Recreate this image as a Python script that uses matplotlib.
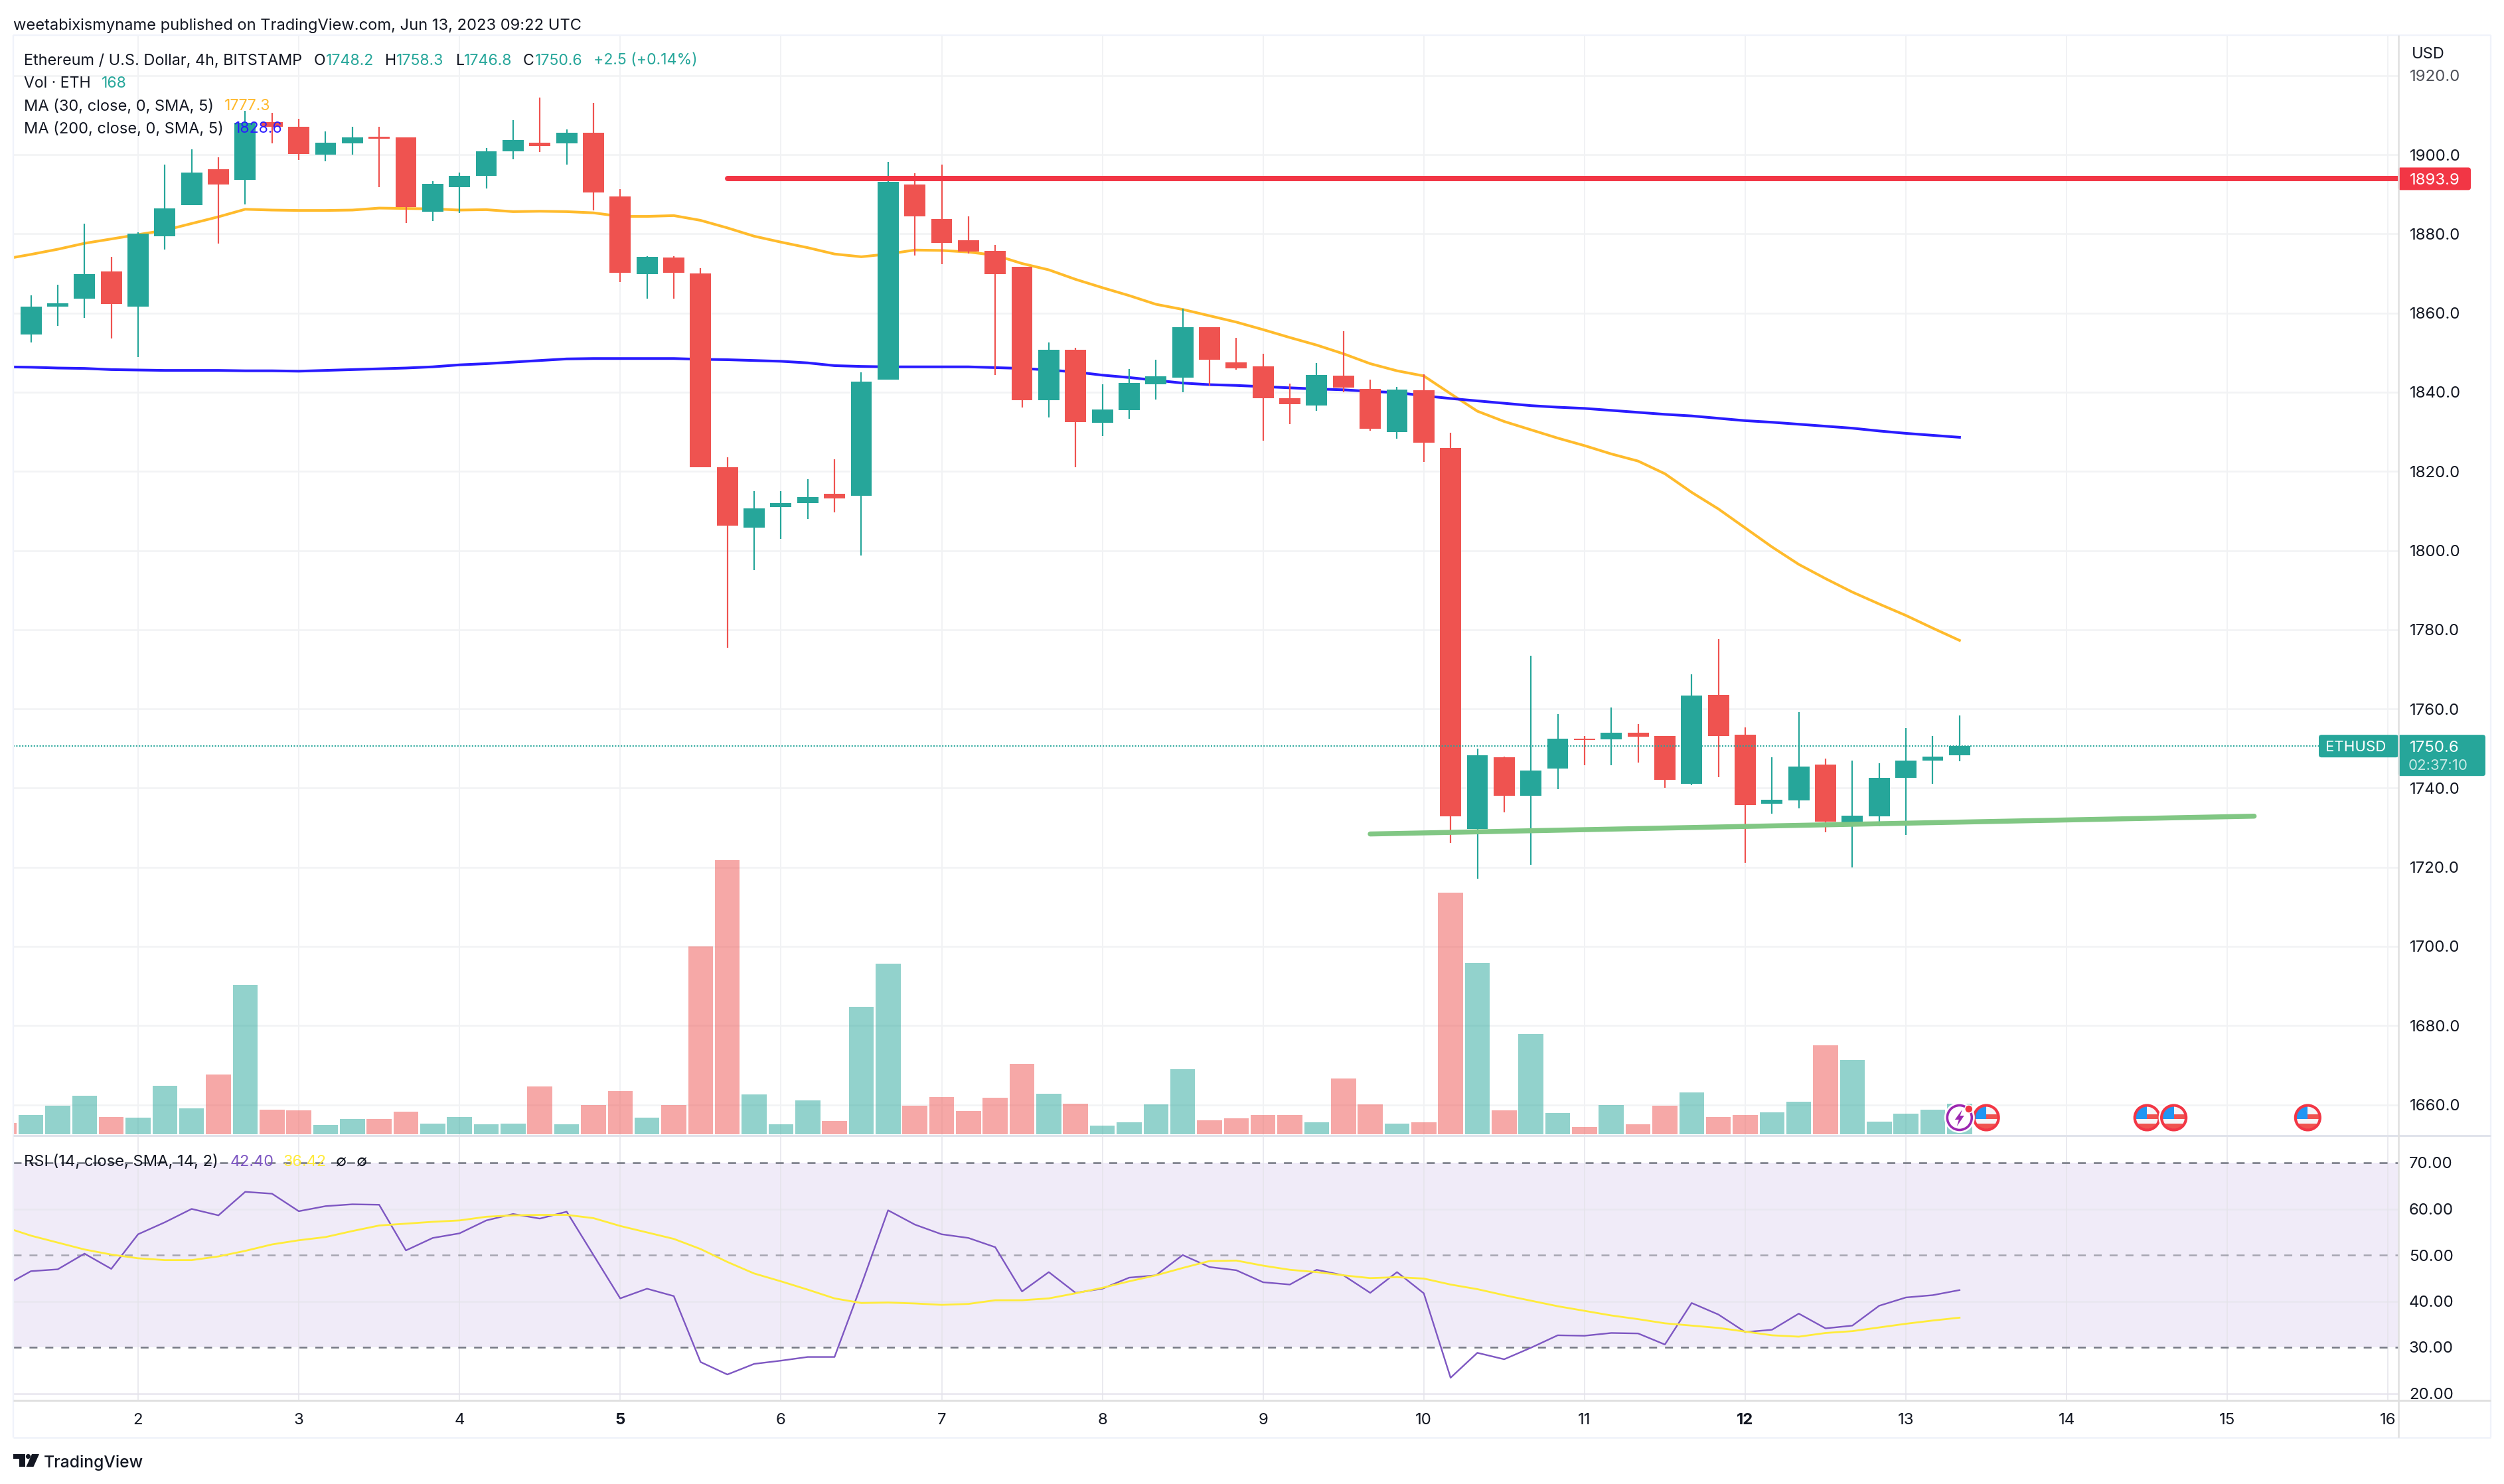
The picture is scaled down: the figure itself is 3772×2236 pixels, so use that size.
import numpy as np
import matplotlib
matplotlib.use("Agg")
import matplotlib.pyplot as plt
from matplotlib.patches import Rectangle, FancyBboxPatch, Circle, Polygon

plt.rcParams['font.family'] = ['Inter', 'DejaVu Sans']

# ---------- data ----------
opens = [1854.5,1861.6,1863.6,1870.5,1861.6,1879.3,1887.2,1896.3,1893.7,1908.2,1907.1,1900.0,1902.8,1904.6,1904.3,1885.6,1891.8,1894.7,1900.9,1903.1,1902.9,1905.5,
         1889.4,1869.8,1874.0,1870.0,1821.0,1805.8,1811.0,1812.0,1814.3,1813.8,1843.2,1892.5,1883.7,1878.3,1875.7,1871.7,1837.9,1850.7,1832.3,1835.4,1842.0,1843.7,1856.4,1847.5,1846.5,1838.4,1836.6,1844.2,1840.9,1829.9,1840.5,
         1825.9,1729.7,1747.8,1738.0,1745.0,1752.5,1752.3,1753.9,1753.1,1741.1,1763.6,1753.4,1736.1,1736.8,1746.0,1731.4,1732.8,1742.6,1747.0,1748.2]
closes = [1861.6,1862.5,1869.9,1862.2,1880.0,1886.5,1895.4,1892.5,1908.0,1907.0,1900.2,1903.0,1904.3,1904.0,1886.8,1892.7,1894.7,1900.9,1903.7,1902.2,1905.5,1890.4,
          1870.2,1874.1,1870.1,1821.0,1806.3,1810.7,1812.0,1813.5,1813.1,1842.6,1893.2,1884.4,1877.7,1875.5,1869.9,1837.9,1850.7,1832.5,1835.6,1842.3,1844.0,1856.4,1848.2,1846.0,1838.4,1836.9,1844.3,1841.1,1830.7,1840.7,1827.2,
          1732.9,1748.2,1738.1,1744.5,1752.5,1752.2,1753.9,1752.9,1742.0,1763.4,1753.2,1735.7,1737.1,1745.5,1731.6,1733.1,1742.6,1747.0,1748.0,1750.6]
highs = [1864.5,1867.1,1882.6,1874.1,1880.4,1897.5,1901.4,1899.4,1911.0,1910.6,1909.0,1905.8,1907.1,1907.1,1904.3,1893.3,1895.4,1901.7,1908.8,1914.5,1906.3,1913.0,
         1891.2,1874.3,1874.4,1871.3,1823.6,1815.0,1815.0,1818.0,1823.0,1845.0,1898.2,1895.3,1897.5,1884.4,1877.2,1871.7,1852.6,1851.2,1842.0,1845.8,1848.2,1861.1,1856.4,1853.7,1849.7,1842.1,1847.3,1855.4,1843.2,1841.3,1844.5,
         1829.7,1750.0,1748.0,1773.5,1758.6,1753.1,1760.3,1756.2,1753.1,1768.8,1777.7,1755.4,1747.8,1759.1,1747.5,1747.0,1746.3,1755.1,1753.1,1758.3]
lows = [1852.5,1856.8,1858.7,1853.5,1848.8,1876.0,1887.2,1877.6,1887.5,1902.9,1898.6,1898.4,1900.0,1891.8,1882.8,1883.3,1885.3,1891.5,1898.9,1900.7,1897.5,1886.0,
        1867.8,1863.6,1863.7,1821.0,1775.5,1795.0,1803.0,1808.0,1809.6,1798.8,1843.2,1874.5,1872.3,1875.1,1844.3,1836.1,1833.6,1821.0,1828.9,1833.2,1838.1,1840.0,1841.7,1845.6,1827.7,1831.9,1835.3,1840.0,1830.2,1828.3,1822.3,
        1726.2,1717.1,1733.9,1720.6,1739.8,1745.8,1745.8,1746.5,1740.0,1740.8,1742.8,1721.2,1733.6,1734.9,1728.9,1720.0,1730.4,1728.2,1741.1,1746.8]
volume = [63,107,158,213,96,92,268,143,331,828,136,132,51,85,85,125,59,96,55,59,265,55,162,239,92,162,1041,1519,221,55,188,74,706,945,158,206,129,202,390,224,169,48,66,166,360,77,88,107,107,66,309,166,59,66,1339,949,132,555,118,40,162,55,158,232,96,107,121,180,493,412,70,114,136,168]
ma30 = [1873.6,1874.8,1876.1,1877.6,1878.7,1879.8,1880.9,1882.6,1884.3,1886.2,1886.0,1885.9,1885.9,1886.0,1886.5,1886.4,1886.3,1886.0,1886.1,1885.6,1885.7,1885.6,1885.3,1884.4,1884.4,1884.6,1883.4,1881.5,1879.4,1877.9,1876.5,1874.9,
        1874.2,1874.9,1875.9,1875.8,1875.4,1874.6,1872.5,1870.9,1868.5,1866.4,1864.4,1862.2,1860.9,1859.3,1857.7,1855.8,1853.8,1851.9,1849.7,1847.2,1845.4,1844.1,1839.6,1835.2,1832.6,1830.5,1828.4,1826.5,1824.4,1822.6,1819.4,1814.7,
        1810.5,1805.7,1800.9,1796.5,1792.9,1789.5,1786.5,1783.6,1780.4,1777.3]
ma200 = [1846.4,1846.3,1846.1,1846.0,1845.7,1845.6,1845.5,1845.5,1845.5,1845.4,1845.4,1845.3,1845.5,1845.7,1845.9,1846.1,1846.4,1846.9,1847.2,1847.6,1848.0,1848.4,1848.5,1848.5,1848.5,1848.5,1848.3,1848.2,1848.0,1847.8,1847.4,1846.7,
         1846.5,1846.4,1846.4,1846.4,1846.4,1846.2,1846.0,1845.6,1845.1,1844.3,1843.7,1843.0,1842.3,1841.9,1841.7,1841.4,1841.1,1840.8,1840.6,1840.2,1839.9,1839.1,1838.4,1837.8,1837.2,1836.6,1836.2,1835.9,1835.4,1834.9,1834.4,1834.0,
         1833.4,1832.8,1832.4,1831.9,1831.4,1830.9,1830.2,1829.6,1829.1,1828.6]
rsi = [43.3,46.5,46.9,50.3,47.0,54.5,57.1,60.0,58.6,63.7,63.3,59.5,60.6,61.0,60.9,51.0,53.7,54.7,57.5,58.9,57.9,59.4,50.0,40.6,42.7,41.1,26.8,24.1,26.4,27.1,27.9,27.9,
       43.5,59.7,56.6,54.5,53.7,51.7,42.1,46.3,41.8,42.7,45.1,45.6,50.0,47.4,46.7,44.1,43.6,46.8,45.6,41.8,46.3,41.7,23.4,28.8,27.4,29.9,32.6,32.5,33.1,33.0,30.6,39.6,
       37.1,33.3,33.8,37.3,34.1,34.7,39.0,40.8,41.3,42.4]
rsi_ma = [56.1,54.2,52.7,51.2,50.1,49.3,48.9,48.9,49.7,50.9,52.3,53.2,53.9,55.2,56.4,56.8,57.2,57.5,58.3,58.6,58.7,58.7,58.0,56.3,54.9,53.5,51.3,48.5,46.0,44.3,42.5,40.6,
          39.6,39.7,39.5,39.2,39.4,40.2,40.2,40.6,41.7,42.9,44.3,45.6,47.2,48.7,48.8,47.7,46.8,46.3,45.6,45.0,45.2,44.9,43.6,42.6,41.3,40.1,38.9,37.9,36.9,36.1,35.2,34.7,
          34.2,33.4,32.6,32.3,33.1,33.5,34.3,35.1,35.8,36.42]
price_ticks = list(range(1660, 1921, 20))
rsi_ticks = [20, 30, 40, 50, 60, 70]
day_labels = [2,3,4,5,6,7,8,9,10,11,12,13,14,15,16]
bold_days = [5, 12]
resistance = 1893.9
last_price = 1750.6
support_x = [46, 79]
support_y = [1728.4, 1732.9]
earnings_bars = [69, 75, 76, 81]
dividend_bars = [68]

# ---------- layout ----------
W, H = 3772, 2236
DPI = 100
def pt(px): return px * 72 / DPI
PL, PR, PT, PB, RB = 20, 3613, 53, 1710.7, 2110
BAR0_PX, BAR_STEP = 208.0, 40.35

GREEN, RED = '#26a69a', '#ef5350'
TXT = '#131722'
GRID = '#f2f3f5'
LINE = '#e0e3eb'

fig = plt.figure(figsize=(W / DPI, H / DPI), dpi=DPI, facecolor='white')
def rect(t, b):
    return [PL / W, 1 - b / H, (PR - PL) / W, (b - t) / H]

xlim = ((PL - BAR0_PX) / BAR_STEP, (PR - BAR0_PX) / BAR_STEP)
plim = (1900 - (PB - 233) / 5.965, 1900 + (233 - PT) / 5.965)
rlim = (20 - (RB - 2099.5) / 6.95, 70 + (1752 - PB) / 6.95)

ax_g = fig.add_axes(rect(PT, PB), zorder=1)
vax = fig.add_axes(rect(PT, PB), zorder=2, facecolor='none')
ax = fig.add_axes(rect(PT, PB), zorder=3, facecolor='none')
rax = fig.add_axes(rect(PB, RB), zorder=1)
for a in (ax_g, vax, ax, rax):
    a.set_xlim(*xlim)
    for s in a.spines.values():
        s.set_visible(False)
ax.set_ylim(*plim); ax_g.set_ylim(*plim); rax.set_ylim(*rlim)
ax.axis('off'); vax.axis('off')

day_pos = [(d - 2) * 6 for d in day_labels]
cand_i = np.arange(-4, 69)
vol_i = np.arange(-5, 69)

# price axis
ax_g.yaxis.tick_right()
ax_g.set_yticks(price_ticks)
ax_g.set_yticklabels([f'{v:.1f}' for v in price_ticks], fontsize=17.3, color=TXT)
ax_g.get_yticklabels()[-1].set_alpha(0.75)
ax_g.tick_params(axis='y', length=0, pad=pt(17))
ax_g.set_xticks([])
ax_g.hlines(price_ticks, *xlim, color=GRID, lw=pt(2.6), zorder=0)
ax_g.vlines(day_pos, *plim, color='#f1f2f4', lw=pt(2), zorder=0)

# volume
vcol = [RED] + [GREEN if c >= o else RED for o, c in zip(opens, closes)]
v_scale = 1 / (1.226 * 3)
vax.set_ylim(-(PB - 1709) / v_scale, (1709 - PT) / v_scale)
vax.bar(vol_i, volume, width=0.93, color=vcol, alpha=0.5, linewidth=0)

# MAs
ax.plot(vol_i, ma30, color='#ffbb2c', lw=pt(4), zorder=2, solid_joinstyle='round')
ax.plot(vol_i, ma200, color='#2a1cff', lw=pt(4), zorder=2, solid_joinstyle='round')

# candles
ccol = [GREEN if c >= o else RED for o, c in zip(opens, closes)]
ax.vlines(cand_i, lows, highs, color=ccol, lw=pt(2.2), zorder=3)
bot = [min(o, c) for o, c in zip(opens, closes)]
hgt = [abs(c - o) for o, c in zip(opens, closes)]
ax.bar(cand_i, hgt, bottom=bot, width=0.79, color=ccol, linewidth=0, zorder=3)

# drawings
ax.plot([22, xlim[1]], [resistance, resistance], color='#f23645', lw=pt(8), zorder=5, solid_capstyle='round')
ax.plot(support_x, support_y, color='#81c784', lw=pt(7.5), zorder=5, solid_capstyle='round')
ax.plot(xlim, [last_price, last_price], color=GREEN, lw=pt(2), ls=(0, (1, 1.2)), zorder=4)

# RSI
rax.yaxis.tick_right()
rax.set_yticks(rsi_ticks)
rax.set_yticklabels([f'{v:.2f}' for v in rsi_ticks], fontsize=17.3, color=TXT)
rax.tick_params(axis='y', length=0, pad=pt(16))
rax.set_xticks(day_pos)
rax.set_xticklabels([str(d) for d in day_labels], fontsize=17.3, color=TXT)
for lab, d in zip(rax.get_xticklabels(), day_labels):
    if d in bold_days:
        lab.set_fontweight('bold')
rax.tick_params(axis='x', length=0, pad=pt(19))
rax.axhspan(30, 70, color='#7e57c2', alpha=0.115, linewidth=0, zorder=0)
rax.hlines([20, 40, 60], *xlim, color='#e9e7f0', lw=pt(2.6), zorder=1)
rax.vlines(day_pos, *rlim, color='#e4e4ea', lw=pt(2), zorder=1, alpha=0.75)
dash = (0, (4.6, 4.6))
rax.hlines([70, 30], *xlim, color='#787b86', lw=pt(2.6), linestyles=[dash], zorder=2)
rax.hlines([50], *xlim, color='#787b86', lw=pt(2.6), linestyles=[dash], alpha=0.6, zorder=2)
rax.plot(vol_i, rsi, color='#7e57c2', lw=pt(2.4), zorder=3)
rax.plot(vol_i, rsi_ma, color='#ffeb3b', lw=pt(2.8), zorder=4)

# ---------- overlay in pixels ----------
ov = fig.add_axes([0, 0, 1, 1], zorder=10, facecolor='none')
ov.set_xlim(0, W); ov.set_ylim(H, 0); ov.axis('off')

def hl(x0, x1, y, c, w): ov.plot([x0, x1], [y, y], color=c, lw=pt(w), solid_capstyle='butt')
def vl(x, y0, y1, c, w): ov.plot([x, x], [y0, y1], color=c, lw=pt(w), solid_capstyle='butt')
hl(20, 3752, PT, '#f0f3fa', 2.4)
hl(20, 3752, 2166, '#f0f3fa', 2.6)
vl(20, PT, 2166, '#f0f3fa', 2.4)
vl(3752, PT, 2166, '#f0f3fa', 2.4)
hl(20, 3752, PB, LINE, 3)
hl(20, 3752, RB, '#e0e0e0', 3)
vl(3613, PT, 2166, '#e0e0e0', 2.6)

FS = 17.0
def T(x, y, s, c=TXT, fs=FS, **k):
    k.setdefault('va', 'center_baseline')
    k.setdefault('ha', 'left')
    ov.text(x, y, s, color=c, fontsize=fs, **k)

T(20, 36, 'weetabixismyname published on TradingView.com, Jun 13, 2023 09:22 UTC', fs=17.05)
y = 89
T(36.5, y, 'Ethereum / U.S. Dollar, 4h, BITSTAMP', fs=16.9)
for x, s in [(472.6, 'O'), (580, 'H'), (686.6, 'L'), (788, 'C')]:
    T(x, y, s, fs=16.6)
for x, s in [(491, '1748.2'), (597, '1758.3'), (699, '1746.8'), (806, '1750.6'), (894, '+2.5 (+0.14%)')]:
    T(x, y, s, c=GREEN, fs=16.6)
T(36.5, 124, 'Vol · ETH', fs=16.6); T(153, 124, '168', c=GREEN, fs=16.6)
T(36.5, 158, 'MA (30, close, 0, SMA, 5)'); T(337.5, 158, '1777.3', c='#ffb92d', fs=16.6)
T(36.5, 192, 'MA (200, close, 0, SMA, 5)'); T(352.4, 192, '1828.6', c='#2a1cff', fs=16.6)
T(36.5, 1748.5, 'RSI (14, close, SMA, 14, 2)', fs=17.1)
T(346.6, 1748.5, '42.40', c='#7e57c2', fs=16.8); T(426, 1748.5, '36.42', c='#ffeb3b', fs=16.8)
T(506, 1748.5, '∅'); T(537, 1748.5, '∅')
T(3633, 80, 'USD')

def box(x0, y0, x1, y1, c):
    ov.add_patch(FancyBboxPatch((x0, y0), x1 - x0, y1 - y0, boxstyle='round,pad=0,rounding_size=4', fc=c, ec='none'))
# red price tag
ry = 233 + (1900 - resistance) * 5.965
box(3612, ry - 17, 3722, ry + 17, '#f23645')
T(3630, ry, '1893.9', c='white', fs=17.3)
# last price tags
ly = 233 + (1900 - last_price) * 5.965
box(3493, ly - 17, 3613, ly + 17, GREEN)
box(3612, ly - 17, 3744, ly + 45, GREEN)
T(3503, ly, 'ETHUSD', c='white', fs=16)
T(3630, ly, '1750.6', c='white', fs=17.3)
T(3628, ly + 28, '02:37:10', c='#c9e9e6', fs=16)

# event icons
IY = 1684
def bar_px(i): return BAR0_PX + i * BAR_STEP
for i in earnings_bars:
    cx = bar_px(i)
    ov.add_patch(Circle((cx, IY), 23, fc='white', ec='none'))
    clip = Circle((cx, IY), 17, transform=ov.transData)
    for xy, wh, c in [((cx - 18, IY - 18), (36, 36), '#f5f5f7'),
                      ((cx - 18, IY + 9), (36, 10), RED),
                      ((cx, IY - 5), (18, 7), RED),
                      ((cx - 18, IY - 18), (18, 20), '#2196f3')]:
        p = Rectangle(xy, *wh, fc=c, ec='none')
        ov.add_patch(p); p.set_clip_path(clip)
    ov.add_patch(Circle((cx, IY), 18.5, fc='none', ec='#f23645', lw=pt(4.2)))
cx = bar_px(dividend_bars[0])
ov.add_patch(Circle((cx, IY), 23, fc='white', ec='none'))
ov.add_patch(Circle((cx, IY), 18.5, fc='white', ec='#9c27b0', lw=pt(3.6)))
ov.add_patch(Polygon([(cx + 4, IY - 12), (cx - 7, IY + 3), (cx - 1, IY + 3), (cx - 4, IY + 13), (cx + 7, IY - 3), (cx + 1, IY - 3)], fc='#9c27b0', ec='none'))
ov.add_patch(Circle((cx + 14, IY - 13), 6, fc='#f23645', ec='white', lw=pt(1.5)))

# logo
LK = '#131722'
ov.add_patch(Polygon([(20, 2191), (38, 2191), (38, 2210), (29, 2210), (29, 2198), (20, 2198)], fc=LK, ec='none'))
ov.add_patch(Circle((42.5, 2194.5), 3.6, fc=LK, ec='none'))
ov.add_patch(Polygon([(48, 2191), (59, 2191), (50.5, 2210), (39.5, 2210)], fc=LK, ec='none'))
T(66, 2202, 'TradingView', fs=17.8, fontweight='medium')

fig.savefig('out.png', dpi=DPI)
